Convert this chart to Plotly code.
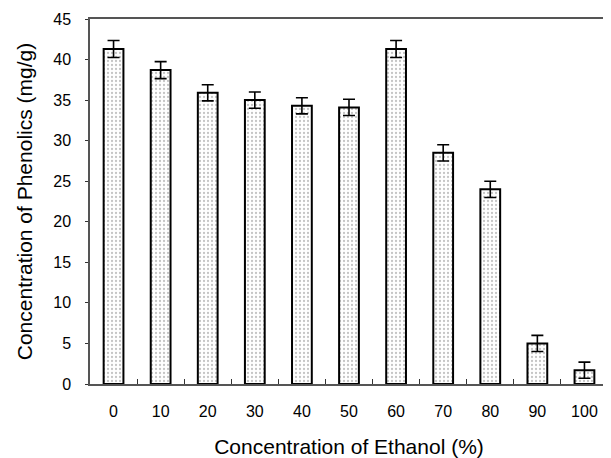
import plotly.graph_objects as go

ethanol = ["0", "10", "20", "30", "40", "50", "60", "70", "80", "90", "100"]
phenolics = [41.3, 38.7, 35.9, 35.0, 34.3, 34.1, 41.3, 28.5, 24.0, 5.0, 1.7]
errors = [1.05, 1.05, 1.0, 1.0, 1.0, 1.0, 1.05, 1.0, 1.0, 1.0, 1.0]
y_ticks = [0, 5, 10, 15, 20, 25, 30, 35, 40, 45]

fig = go.Figure()
fig.add_trace(go.Bar(
    x=ethanol,
    y=phenolics,
    error_y=dict(type="data", array=errors, visible=True, color="black",
                 thickness=1.6, width=6),
    marker=dict(color="white",
                line=dict(color="black", width=2),
                pattern=dict(shape=".", fgcolor="#8a8a8a", bgcolor="white",
                             size=4, solidity=0.25)),
))

font_family = "Liberation Sans, Arial, sans-serif"
# the page body adds an 8px offset, so the figure is 8px smaller than the window
fig.update_layout(
    width=603, height=450,
    margin=dict(l=82, r=3, t=11, b=74, autoexpand=False),
    paper_bgcolor="white", plot_bgcolor="white",
    bargap=0.58,
    showlegend=False,
    font=dict(family=font_family, color="black", size=16),
    xaxis=dict(
        type="category",
        automargin=False,
        showline=True, linecolor="#555", linewidth=1.5, mirror=True,
        ticks="inside", tickson="boundaries", ticklen=5, tickcolor="#333",
        ticklabelstandoff=12,
        showgrid=False,
        title=dict(text="Concentration of Ethanol (%)", font=dict(size=21), standoff=20),
    ),
    yaxis=dict(
        range=[0, 45],
        tickvals=y_ticks,
        automargin=False,
        showline=True, linecolor="#555", linewidth=1.5,
        ticks="outside", ticklen=3, tickcolor="#333",
        ticklabelstandoff=11,
        showgrid=False, zeroline=False,
        title=dict(text="Concentration of Phenolics (mg/g)", font=dict(size=21), standoff=15),
    ),
)

fig.write_html("out.html")
